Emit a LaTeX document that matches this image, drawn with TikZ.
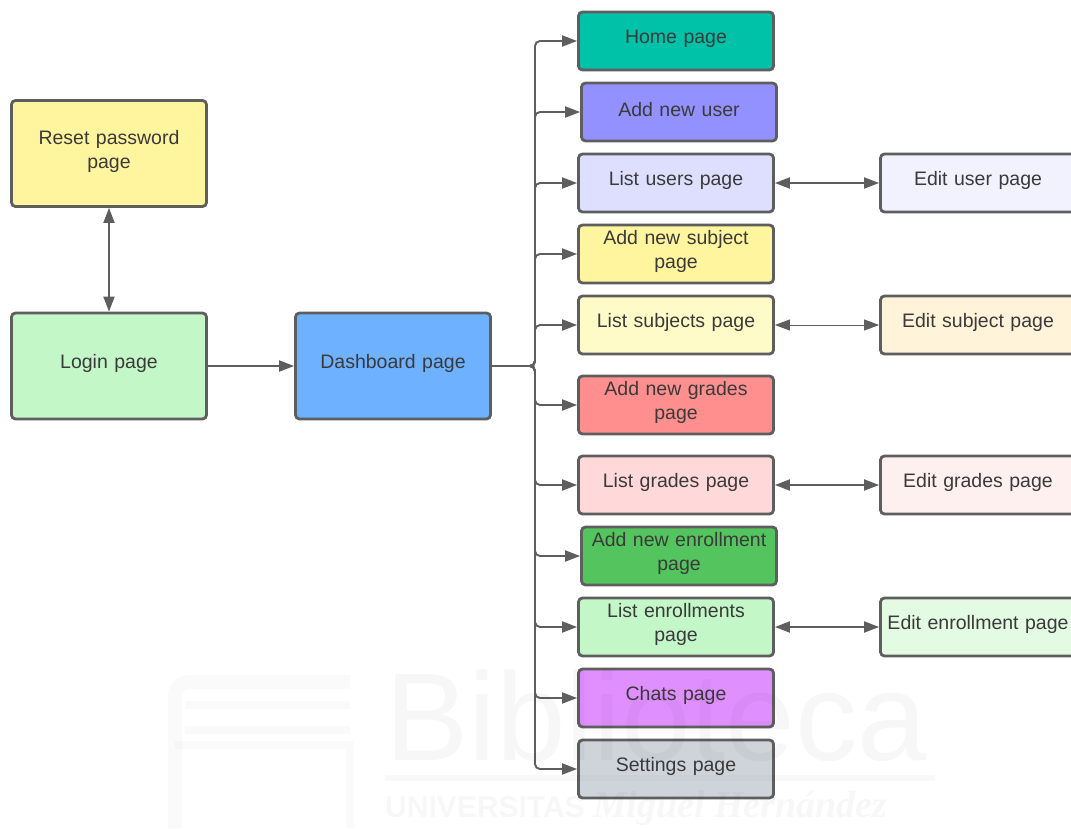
\documentclass[tikz,border=0pt]{standalone}
\usepackage{fontspec}
\setmainfont{Liberation Sans}
\newfontfamily\markserif{Liberation Serif}
\usepackage{xcolor}
\usetikzlibrary{arrows.meta,positioning}
\definecolor{inkgray}{HTML}{5E5E5E}
\definecolor{textgray}{HTML}{3A3A3A}
\definecolor{homecol}{HTML}{00C2A8}
\definecolor{adduser}{HTML}{9391FF}
\definecolor{listuser}{HTML}{DEDFFF}
\definecolor{addsubject}{HTML}{FFF59F}
\definecolor{listsubject}{HTML}{FFFBC9}
\definecolor{addgrades}{HTML}{FF8F8F}
\definecolor{listgrades}{HTML}{FFD9D9}
\definecolor{addenroll}{HTML}{54C45E}
\definecolor{listenroll}{HTML}{C3F7C8}
\definecolor{chatscol}{HTML}{E08FFF}
\definecolor{settingscol}{HTML}{CFD4DB}
\definecolor{dashcol}{HTML}{6DB1FF}
\definecolor{edituser}{HTML}{F2F2FF}
\definecolor{editsubject}{HTML}{FFF3D9}
\definecolor{editgrades}{HTML}{FFF0F0}
\definecolor{editenroll}{HTML}{E3FAE3}

\begin{document}
\begin{tikzpicture}[x=1pt,y=1pt,on grid,
   page/.style={draw=inkgray,line width=2.8pt,rounded corners=4pt,minimum width=195pt,
      minimum height=58pt,inner xsep=3pt,inner ysep=0pt,text width=189pt,align=center,
      text=textgray,font=\fontsize{19.5}{24}\selectfont,
      execute at end node={\endgraf\vspace{4.5pt}}},
   bigpage/.style={page,minimum height=106pt},
   link/.style={draw=inkgray,line width=1.9pt,rounded corners=5pt,-{Triangle[length=15pt,width=11pt]}},
   twoway/.style={draw=inkgray,line width=1.9pt,{Triangle[length=15pt,width=11pt]}-{Triangle[length=15pt,width=11pt]}},
   mark text/.style={text=black,text opacity=0.03,inner sep=0pt}]
   \useasboundingbox (0,0) rectangle (1071,-828);
   \node[bigpage,fill=listenroll] (login) at (109,-366) {Login page};
   \node[bigpage,fill=addsubject,above=212.5pt of login] (reset) {Reset password\\page};
   \node[bigpage,fill=dashcol,right=284pt of login] (dash) {Dashboard page};
   \coordinate[right=142pt of dash] (bus);
   \node[page,fill=homecol,right=283pt of dash,yshift=325pt] (home) {Home page};
   \node[page,fill=adduser,below=71pt of home,xshift=3pt] (newuser) {Add new user};
   \node[page,fill=listuser,below=71pt of newuser,xshift=-3pt] (users) {List users page};
   \node[page,fill=addsubject,below=71pt of users] (newsubject) {Add new subject\\page};
   \node[page,fill=listsubject,below=71pt of newsubject] (subjects) {List subjects page};
   \node[page,fill=addgrades,below=80pt of subjects] (newgrades) {Add new grades\\page};
   \node[page,fill=listgrades,below=80pt of newgrades] (grades) {List grades page};
   \node[page,fill=addenroll,below=71pt of grades,xshift=3pt] (newenroll) {Add new enrollment\\page};
   \node[page,fill=listenroll,below=71pt of newenroll,xshift=-3pt] (enrolls) {List enrollments\\page};
   \node[page,fill=chatscol,below=71pt of enrolls] (chats) {Chats page};
   \node[page,fill=settingscol,below=71pt of chats] (settings) {Settings page};
   \node[page,fill=edituser,right=302pt of users] (edituser) {Edit user page};
   \node[page,fill=editsubject,right=302pt of subjects] (editsubject) {Edit subject page};
   \node[page,fill=editgrades,right=302pt of grades] (editgrades) {Edit grades page};
   \node[page,fill=editenroll,right=302pt of enrolls] (editenroll) {Edit enrollment page};
   \draw[twoway] (login) -- (reset);
   \draw[link] (login) -- (dash);
   \foreach \target in {home,newuser,users,newsubject,subjects,newgrades,grades,newenroll,enrolls,chats,settings}
      \draw[link] (dash.east) -- (bus) |- (\target.west);
   \draw[twoway] (users) -- (edituser);
   \draw[twoway,line width=1pt] (subjects) -- (editsubject);
   \draw[twoway] (grades) -- (editgrades);
   \draw[twoway] (enrolls) -- (editenroll);
   \node[mark text,font=\fontsize{125}{125}\selectfont,anchor=base west] (markname) at (385,-760) {Biblioteca};
   \node[mark text,font=\fontsize{30}{30}\bfseries\selectfont,anchor=base west] (markuni) at (385,-817) {UNIVERSITAS {\markserif\itshape\fontsize{38}{38}\selectfont Miguel Hernández}};
   \draw[black,opacity=0.025,line width=6pt] (385,-778) -- (935,-778);
   \draw[black,opacity=0.02,line width=14pt,rounded corners=14pt] (350,-682) -- (175,-682) -- (175,-828);
   \draw[black,opacity=0.02,line width=8pt] (185,-705) -- (350,-705) (185,-730) -- (350,-730) (175,-745) -- (350,-745) -- (350,-828);
\end{tikzpicture}
\end{document}
